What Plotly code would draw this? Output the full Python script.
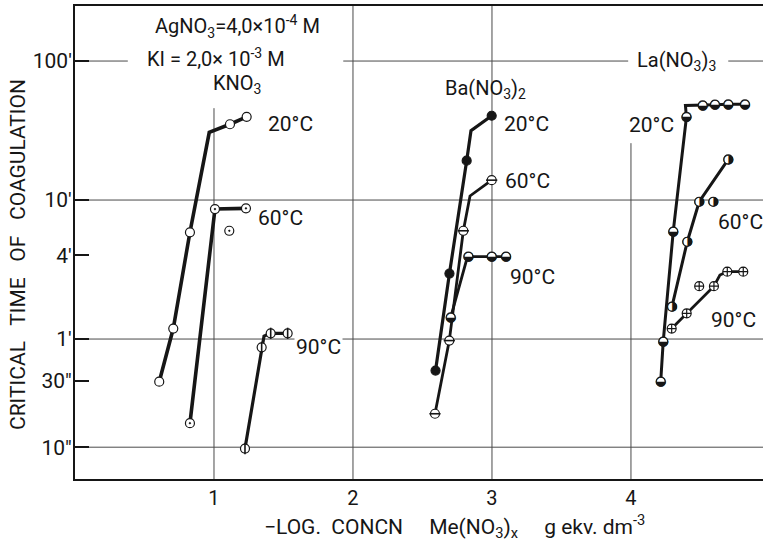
import math
import plotly.graph_objects as go

# ---------------- data (x = -log conc, y = critical time in minutes) ----------------
# line vertices; *_m flags which vertices carry a measured-point marker (0 = bend only)
kno3_20_x = [0.606, 0.707, 0.827, 0.966, 1.115, 1.235]
kno3_20_y = [0.493, 1.19, 5.86, 30.7, 35.1, 39.7]
kno3_20_m = [1, 1, 1, 0, 1, 1]

kno3_60_x = [0.827, 1.007, 1.230]
kno3_60_y = [0.248, 8.61, 8.71]
kno3_60_m = [1, 1, 1]
kno3_60_iso_x = [1.110]
kno3_60_iso_y = [6.01]

kno3_90_x = [1.223, 1.343, 1.360, 1.408, 1.530]
kno3_90_y = [0.163, 0.871, 1.05, 1.10, 1.10]
kno3_90_m = [1, 1, 0, 1, 1]

ba_20_x = [2.594, 2.694, 2.818, 2.849, 2.998]
ba_20_y = [0.593, 2.96, 19.2, 31.5, 40.4]
ba_20_m = [1, 1, 1, 0, 1]

ba_60_x = [2.590, 2.693, 2.794, 2.842, 2.998]
ba_60_y = [0.290, 0.975, 6.01, 10.7, 13.9]
ba_60_m = [1, 1, 1, 0, 1]

ba_90_x = [2.703, 2.813, 2.830, 2.998, 3.101]
ba_90_y = [1.43, 3.58, 3.91, 3.91, 3.91]
ba_90_m = [1, 0, 1, 1, 1]

la_20_x = [4.214, 4.232, 4.304, 4.399, 4.392, 4.516, 4.604, 4.700, 4.820]
la_20_y = [0.493, 0.957, 5.92, 39.5, 47.9, 48.0, 48.5, 48.8, 48.8]
la_20_m = [1, 1, 1, 1, 0, 1, 1, 1, 1]

la_60_x = [4.295, 4.405, 4.491, 4.700]
la_60_y = [1.71, 5.01, 9.72, 19.6]
la_60_m = [1, 1, 1, 1]
la_60_iso_x = [4.592]
la_60_iso_y = [9.72]

la_90_x = [4.293, 4.401, 4.597, 4.640, 4.693, 4.808]
la_90_y = [1.19, 1.53, 2.40, 2.89, 3.05, 3.05]
la_90_m = [1, 1, 1, 0, 1, 1]
la_90_iso_x = [4.491]
la_90_iso_y = [2.40]

ytick_vals = [100, 10, 4, 1, 0.5, 1 / 6]
ytick_text = ["100'", "10'", "4'", "1'", '30"', '10"']
ygrid_vals = [100, 10, 1, 1 / 6]
xtick_vals = [1, 2, 3, 4]
xtick_text = ["1", "2", "3", "4"]

# ---------------- figure ----------------
W, H = 763, 541
ML, MR, MT, MB = 75, 0, 6, 62
XR = [0, 4.95]
YR = [-1.007, 2.396]
INK = "#161616"
FONT = "Roboto, DejaVu Sans, sans-serif"

fig = go.Figure()


def pick(xs, ys, ms):
    return [x for x, m in zip(xs, ms) if m], [y for y, m in zip(ys, ms) if m]


def add_line(xs, ys, width=3.2):
    fig.add_trace(go.Scatter(x=xs, y=ys, mode="lines",
                             line=dict(color=INK, width=width),
                             hoverinfo="skip", showlegend=False))


def add_marks(xs, ys, symbol="circle", fill="white", size=9, overlay=None):
    mk = dict(symbol=symbol, size=size, color=fill,
              line=dict(color=INK, width=1.2))
    fig.add_trace(go.Scatter(x=xs, y=ys, mode="markers", marker=mk,
                             hoverinfo="skip", showlegend=False))
    if overlay:
        fig.add_trace(go.Scatter(x=xs, y=ys, mode="markers",
                                 marker=dict(symbol=overlay, size=size - 1,
                                             line=dict(color=INK, width=1.6)),
                                 hoverinfo="skip", showlegend=False))


def add_half(xs, ys, glyph):
    # white disc underneath, half-filled circle glyph on top
    fig.add_trace(go.Scatter(x=xs, y=ys, mode="markers",
                             marker=dict(symbol="circle", size=9, color="white",
                                         line=dict(color=INK, width=1.2)),
                             hoverinfo="skip", showlegend=False))
    fig.add_trace(go.Scatter(x=xs, y=ys, mode="text", text=[glyph] * len(xs),
                             textposition="middle center",
                             textfont=dict(family="DejaVu Sans", size=13, color=INK),
                             hoverinfo="skip", showlegend=False))


# KNO3
add_line(kno3_20_x, kno3_20_y, 3.6)
add_marks(*pick(kno3_20_x, kno3_20_y, kno3_20_m))
add_line(kno3_60_x, kno3_60_y, 3.6)
add_marks(*pick(kno3_60_x, kno3_60_y, kno3_60_m), symbol="circle-dot")
add_marks(kno3_60_iso_x, kno3_60_iso_y, symbol="circle-dot")
add_line(kno3_90_x, kno3_90_y, 3.2)
add_marks(*pick(kno3_90_x, kno3_90_y, kno3_90_m), overlay="line-ns")

# Ba(NO3)2
add_line(ba_20_x, ba_20_y)
add_marks(*pick(ba_20_x, ba_20_y, ba_20_m), fill=INK)
add_line(ba_60_x, ba_60_y, 2.8)
add_marks(*pick(ba_60_x, ba_60_y, ba_60_m), overlay="line-ew")
add_line(ba_90_x, ba_90_y, 2.8)
add_half(*pick(ba_90_x, ba_90_y, ba_90_m), "◒")

# La(NO3)3
add_line(la_20_x, la_20_y, 3.0)
add_half(*pick(la_20_x, la_20_y, la_20_m), "◒")
add_line(la_60_x, la_60_y, 3.0)
add_half(*pick(la_60_x, la_60_y, la_60_m), "◑")
add_half(la_60_iso_x, la_60_iso_y, "◑")
add_line(la_90_x, la_90_y, 2.8)
add_marks(*pick(la_90_x, la_90_y, la_90_m), symbol="circle-cross")
add_marks(la_90_iso_x, la_90_iso_y, symbol="circle-cross")

# ---------------- grid lines (drawn as shapes so that the gaps can be kept) -------------
def ypaper(v):
    return (math.log10(v) - YR[0]) / (YR[1] - YR[0])


GRID = dict(color="#4a4a4a", width=1)
shapes = []
for xv, top in [(1, 0.784), (2, 1.0), (3, 1.0), (4, 0.710)]:
    shapes.append(dict(type="line", xref="x", yref="paper", x0=xv, x1=xv,
                       y0=0, y1=top, line=GRID, layer="below"))
for v in ygrid_vals:
    yp = ypaper(v)
    if v == 100:
        segs = [(0, 0.38), (1.93, 3.98), (4.70, XR[1])]
    else:
        segs = [(0, XR[1])]
    for a, b in segs:
        shapes.append(dict(type="line", xref="x", yref="paper", x0=a, x1=b,
                           y0=yp, y1=yp, line=GRID, layer="below"))


# ---------------- text (placed by pixel position) ----------------
def px(xp, yp):
    return (xp - ML) / (W - ML - MR), (H - MB - yp) / (H - MT - MB)


anns = []


def label(text, xp, yp, size=20, bg=None, angle=None):
    ax, ay = px(xp, yp)
    d = dict(text=text, x=ax, y=ay, xref="paper", yref="paper",
             showarrow=False, xanchor="center", yanchor="middle",
             font=dict(family=FONT, size=size, color=INK))
    if bg:
        d["bgcolor"] = bg
    if angle is not None:
        d["textangle"] = angle
    anns.append(d)


label("AgNO<sub>3</sub>=4,0×10<sup>-4</sup> M", 237, 27, 20)
label("KI = 2,0× 10<sup>-3</sup> M", 216, 58, 20)
label("KNO<sub>3</sub>", 237, 84, 20)
label("Ba(NO<sub>3</sub>)<sub>2</sub>", 486, 89, 20)
label("La(NO<sub>3</sub>)<sub>3</sub>", 676, 61, 20)

label("20°C", 290, 124, 21)
label("60°C", 280, 218, 21)
label("90°C", 318, 347, 21, bg="white")
label("20°C", 526, 124, 21)
label("60°C", 527, 181, 21)
label("90°C", 532, 277, 21)
label("20°C", 651, 125, 21)
label("60°C", 740, 222, 21)
label("90°C", 733, 320, 21)

label("CRITICAL   TIME   OF   COAGULATION", 18, 255, 21, angle=-90)
label("−LOG.  CONCN     Me(NO<sub>3</sub>)<sub>x</sub>     g ekv. dm<sup>-3</sup>", 454, 526, 21)

fig.update_layout(
    width=W, height=H,
    margin=dict(l=ML, r=MR, t=MT, b=MB, pad=0),
    paper_bgcolor="white", plot_bgcolor="white",
    showlegend=False,
    shapes=shapes, annotations=anns,
    xaxis=dict(range=XR, showgrid=False, zeroline=False,
               showline=True, mirror=True, linecolor=INK, linewidth=2,
               tickmode="array", tickvals=xtick_vals, ticktext=xtick_text,
               ticks="", tickfont=dict(family=FONT, size=20, color=INK)),
    yaxis=dict(type="log", range=YR, showgrid=False, zeroline=False,
               showline=True, linecolor=INK, linewidth=2,
               tickmode="array", tickvals=ytick_vals, ticktext=ytick_text,
               ticks="inside", ticklen=14, tickwidth=2, tickcolor=INK,
               ticklabelstandoff=-3,
               tickfont=dict(family=FONT, size=21, color=INK)),
)

fig.write_html("out.html")
